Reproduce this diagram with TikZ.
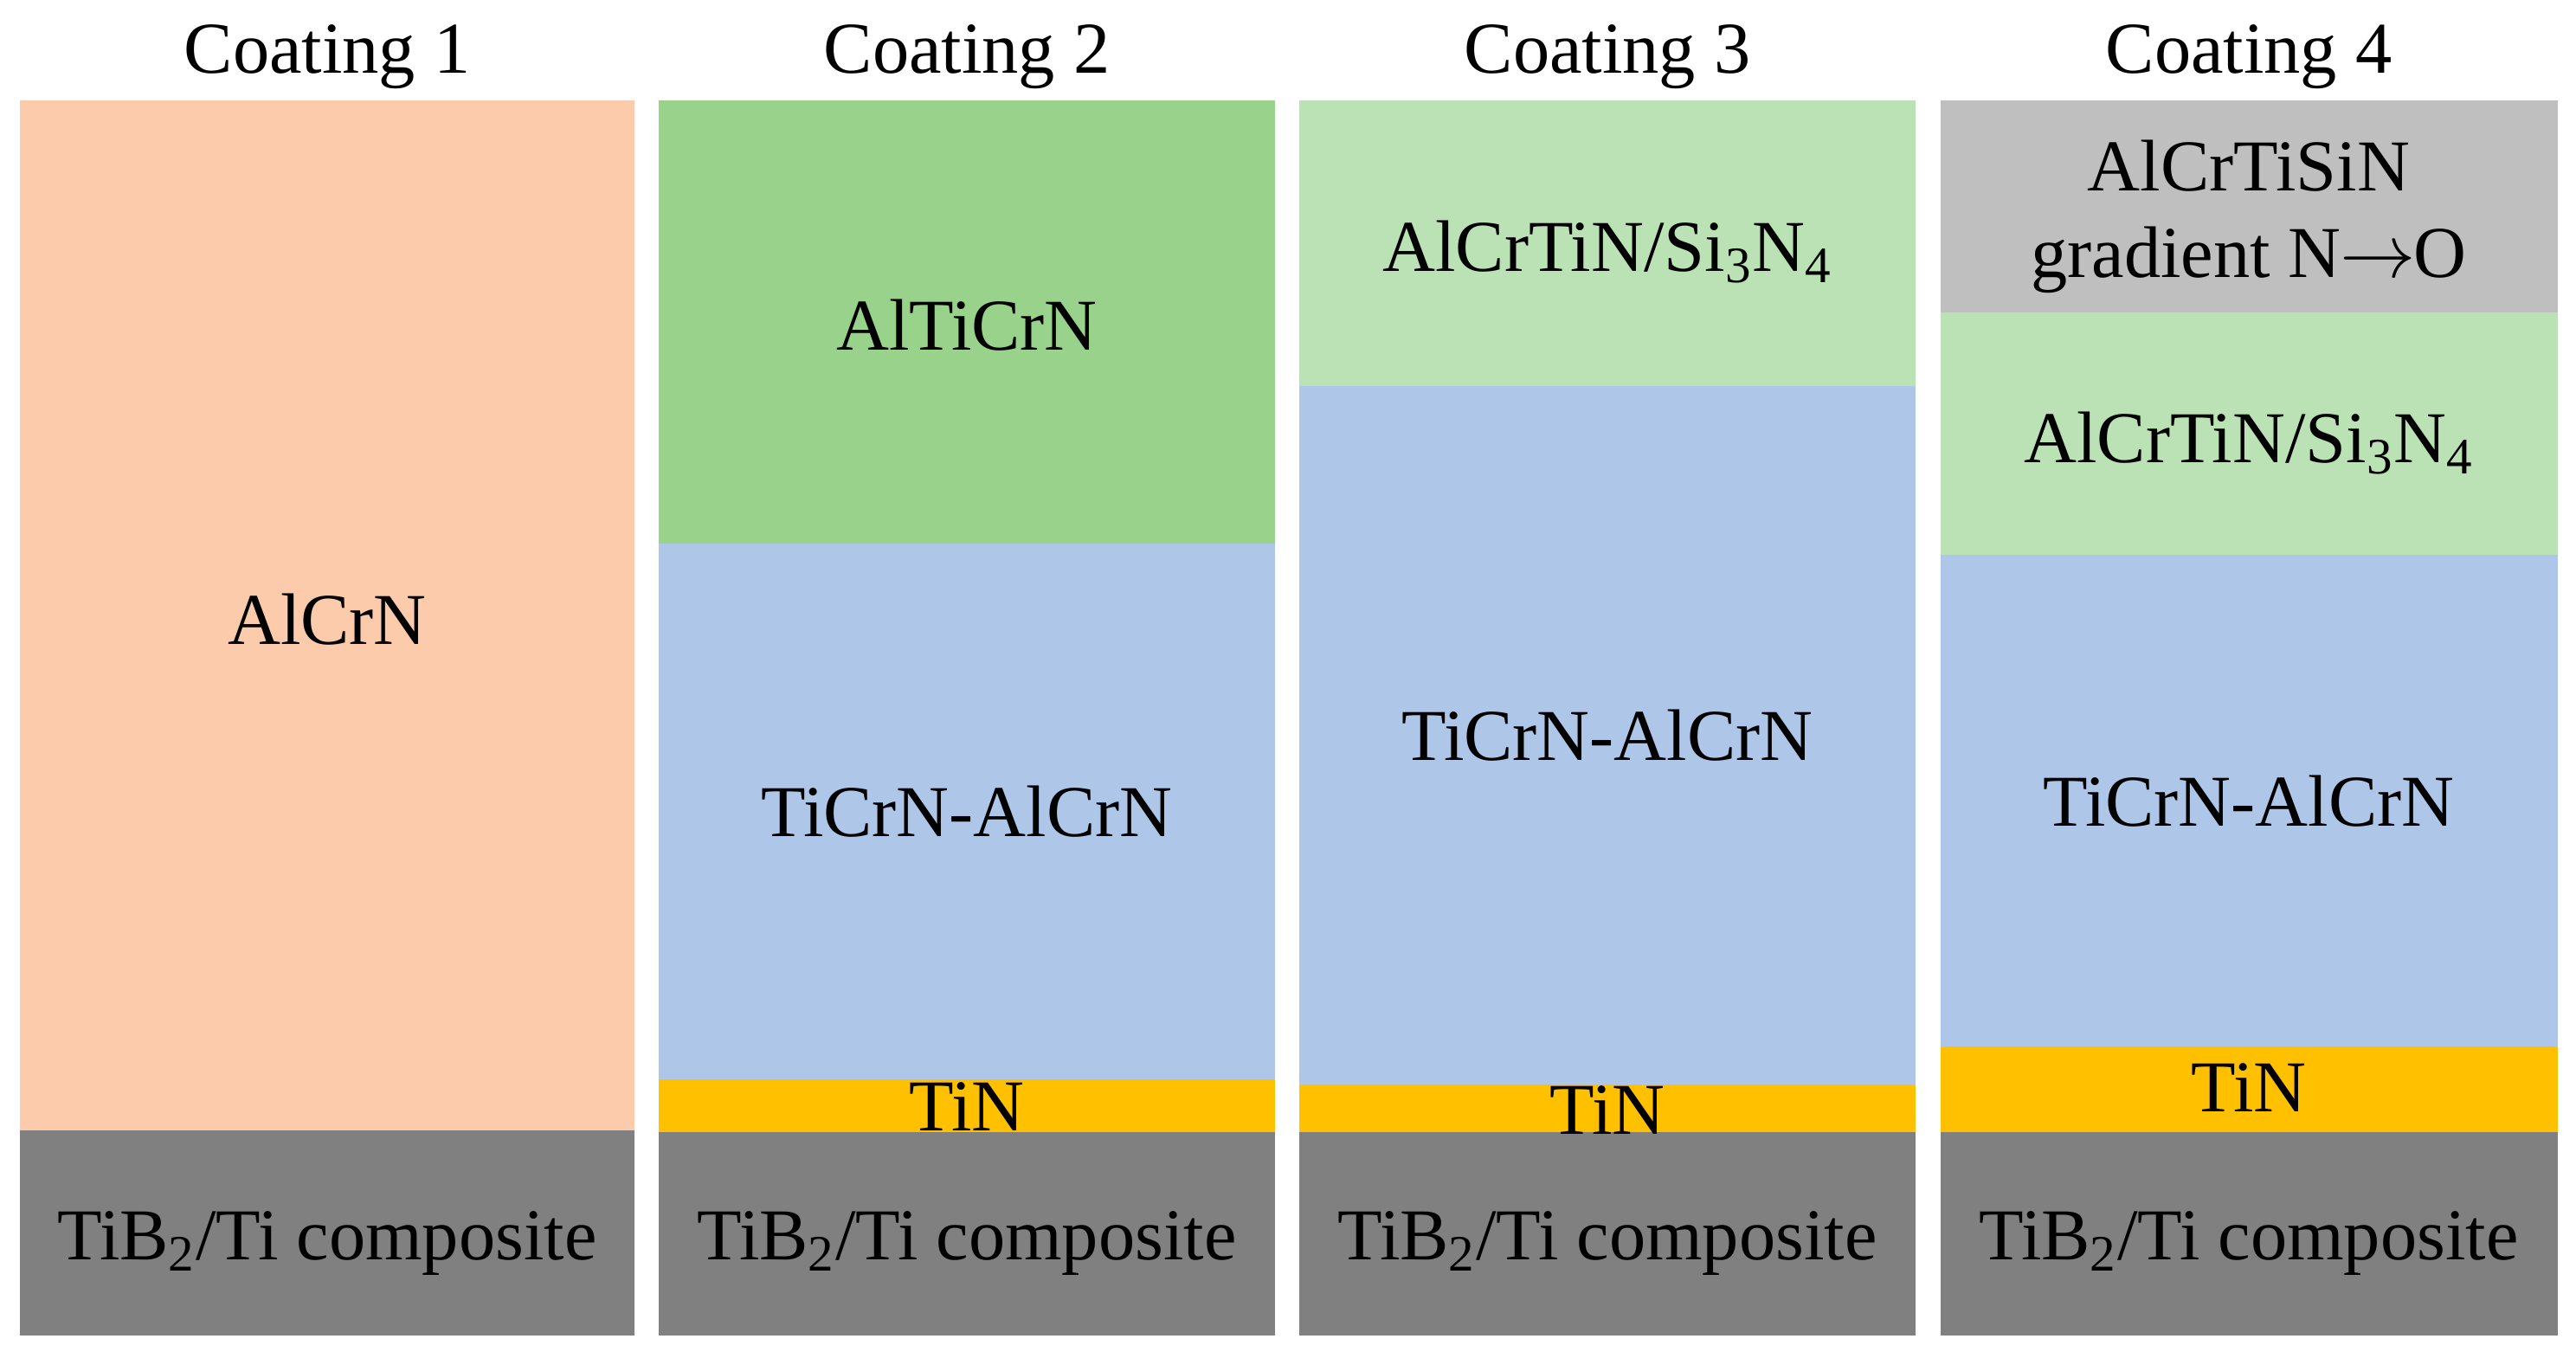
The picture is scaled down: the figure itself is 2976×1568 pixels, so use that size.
\documentclass[tikz,border=0pt]{standalone}
\usepackage{fontspec}
\setmainfont{Liberation Serif}
\definecolor{peach}{HTML}{FBCBAB}
\definecolor{midgreen}{HTML}{98D28B}
\definecolor{lightgreen}{HTML}{BAE2B4}
\definecolor{layerblue}{HTML}{AEC7E8}
\definecolor{tinyellow}{HTML}{FFC000}
\definecolor{subgray}{HTML}{808080}
\definecolor{topgray}{HTML}{BFBFBF}
\begin{document}
\begin{tikzpicture}[x=0.01cm,y=-0.01cm,
  lab/.style={anchor=base,font=\fontsize{24}{28}\selectfont,inner sep=0pt,text=black}]
\useasboundingbox (0,0) rectangle (2976,1568);
\fill[white] (0,0) rectangle (2976,1568);
% Coating 1
\fill[peach] (23,116) rectangle (733,1306);
\fill[subgray] (23,1306) rectangle (733,1543);
% Coating 2
\fill[midgreen] (761,116) rectangle (1473,628);
\fill[layerblue] (761,628) rectangle (1473,1247);
\fill[tinyellow] (761,1247) rectangle (1473,1308);
\fill[subgray] (761,1308) rectangle (1473,1543);
% Coating 3
\fill[lightgreen] (1501,116) rectangle (2213,446);
\fill[layerblue] (1501,446) rectangle (2213,1253);
\fill[tinyellow] (1501,1253) rectangle (2213,1308);
\fill[subgray] (1501,1308) rectangle (2213,1543);
% Coating 4
\fill[topgray] (2242,116) rectangle (2955,361);
\fill[lightgreen] (2242,361) rectangle (2955,641);
\fill[layerblue] (2242,641) rectangle (2955,1209);
\fill[tinyellow] (2242,1209) rectangle (2955,1308);
\fill[subgray] (2242,1308) rectangle (2955,1543);
% titles
\node[lab] (t1) at (378,84) {Coating 1};
\node[lab] (t2) at (1117,84) {Coating 2};
\node[lab] (t3) at (1857,84) {Coating 3};
\node[lab] (t4) at (2598,84) {Coating 4};
% labels column 1
\node[lab] (c1a) at (378,744) {AlCrN};
\node[lab] (c1s) at (378,1455) {TiB\textsubscript{2}/Ti composite};
% column 2
\node[lab] (c2a) at (1117,404) {AlTiCrN};
\node[lab] (c2b) at (1117,966) {TiCrN-AlCrN};
\node[lab] (c2c) at (1117,1306) {TiN};
\node[lab] (c2s) at (1117,1455) {TiB\textsubscript{2}/Ti composite};
% column 3
\node[lab] (c3a) at (1857,313) {AlCrTiN/Si\textsubscript{3}N\textsubscript{4}};
\node[lab] (c3b) at (1857,878) {TiCrN-AlCrN};
\node[lab] (c3c) at (1857,1310) {TiN};
\node[lab] (c3s) at (1857,1455) {TiB\textsubscript{2}/Ti composite};
% column 4
\node[lab] (c4a) at (2598,220) {AlCrTiSiN};
\node[lab] (c4g) at (2598,320) {gradient N\kern-0.5pt$\rightarrow$\kern-0.5pt O};
\node[lab] (c4b) at (2598,534) {AlCrTiN/Si\textsubscript{3}N\textsubscript{4}};
\node[lab] (c4c) at (2598,954) {TiCrN-AlCrN};
\node[lab] (c4d) at (2598,1284) {TiN};
\node[lab] (c4s) at (2598,1455) {TiB\textsubscript{2}/Ti composite};
\end{tikzpicture}
\end{document}
